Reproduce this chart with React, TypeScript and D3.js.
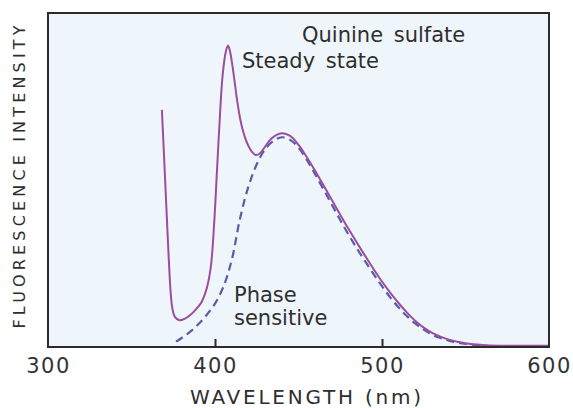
import React, { useEffect, useRef } from 'react';
import * as d3 from 'd3';

// Steady state emission (solid), wavelength nm / relative intensity
const steadyWl = [368.2, 369.5, 370.5, 371.5, 372.5, 373.5, 374.5, 376, 378.7, 382, 385, 389, 392, 395, 397.5, 399.5, 401, 402.6, 404.5, 406.5, 407.8, 409, 410.5, 412, 413.5, 415, 416.5, 418, 420, 422, 424.3, 427, 430, 434, 440, 445, 450, 455, 460, 465, 470, 475, 480, 485, 490, 495, 500, 505, 510, 515, 520, 525, 530, 535, 540, 545, 550, 560, 570, 585, 600];
const steadyVal = [0.71, 0.57, 0.46, 0.35, 0.245, 0.16, 0.115, 0.09, 0.08, 0.085, 0.095, 0.115, 0.135, 0.175, 0.24, 0.37, 0.51, 0.66, 0.81, 0.885, 0.903, 0.885, 0.84, 0.785, 0.73, 0.685, 0.652, 0.627, 0.602, 0.585, 0.575, 0.58, 0.6, 0.625, 0.64, 0.632, 0.605, 0.568, 0.527, 0.484, 0.44, 0.396, 0.353, 0.312, 0.272, 0.233, 0.196, 0.162, 0.131, 0.103, 0.078, 0.058, 0.042, 0.031, 0.022, 0.016, 0.011, 0.006, 0.004, 0.004, 0.004];

// Phase sensitive emission (dashed)
const phaseWl = [376.7, 380, 385, 390, 395, 400, 405, 410, 415, 420, 425, 430, 435, 440, 445, 450, 455, 460, 465, 470, 475, 480, 485, 490, 495, 500, 505, 510, 515, 520, 525, 530, 535, 540, 545, 550, 560, 570, 585];
const phaseVal = [0.016, 0.027, 0.045, 0.068, 0.096, 0.13, 0.18, 0.26, 0.385, 0.48, 0.547, 0.592, 0.617, 0.628, 0.62, 0.597, 0.56, 0.517, 0.472, 0.426, 0.38, 0.336, 0.295, 0.256, 0.218, 0.182, 0.148, 0.118, 0.092, 0.07, 0.052, 0.037, 0.027, 0.019, 0.013, 0.009, 0.004, 0.001, 0];

const xTicks = [300, 400, 500, 600];

export default function App() {
  const svgRef = useRef<SVGSVGElement>(null);

  useEffect(() => {
    if (!svgRef.current) return;
    const svg = d3.select(svgRef.current);
    svg.selectAll('*').remove();

    const left = 48, right = 549, top = 13, bottom = 347;
    const font = 'DejaVu Sans, sans-serif';

    const x = d3.scaleLinear().domain([300, 600]).range([left, right]);
    const y = d3.scaleLinear().domain([0, 1]).range([bottom, top]);

    // plot background
    svg.append('rect')
      .attr('x', left).attr('y', top)
      .attr('width', right - left).attr('height', bottom - top)
      .attr('fill', '#eef6fb');

    const line = d3.line<[number, number]>()
      .x(d => x(d[0]))
      .y(d => y(d[1]))
      .curve(d3.curveCatmullRom.alpha(0.5));

    const phase = phaseWl.map((w, i) => [w, phaseVal[i]] as [number, number]);
    const steady = steadyWl.map((w, i) => [w, steadyVal[i]] as [number, number]);

    svg.append('path')
      .datum(phase)
      .attr('d', line)
      .attr('fill', 'none')
      .attr('stroke', '#5b5aab')
      .attr('stroke-width', 2.2)
      .attr('stroke-dasharray', '8,5');

    svg.append('path')
      .datum(steady)
      .attr('d', line)
      .attr('fill', 'none')
      .attr('stroke', '#9b4d9e')
      .attr('stroke-width', 2);

    // frame
    svg.append('rect')
      .attr('x', left).attr('y', top)
      .attr('width', right - left).attr('height', bottom - top)
      .attr('fill', 'none')
      .attr('stroke', '#2b2b2b')
      .attr('stroke-width', 2);

    // bottom axis, ticks pointing inward
    const axis = svg.append('g')
      .attr('transform', `translate(0,${bottom})`)
      .call(d3.axisBottom(x).tickValues(xTicks).tickSize(-8).tickPadding(11).tickFormat(d3.format('d')));
    axis.select('.domain').remove();
    axis.selectAll('.tick line')
      .attr('stroke', '#2b2b2b')
      .attr('stroke-width', 2)
      .attr('opacity', (d: any) => (d === 300 || d === 600 ? 0 : 1));
    axis.selectAll('.tick text')
      .attr('font-family', font)
      .attr('font-size', 21)
      .attr('letter-spacing', 1.5)
      .attr('fill', '#333');

    const label = (txt: string, tx: number, ty: number, size: number) =>
      svg.append('text')
        .attr('x', tx).attr('y', ty)
        .attr('font-family', font)
        .attr('font-size', size)
        .attr('fill', '#2e2e2e')
        .attr('word-spacing', 4)
        .text(txt);

    label('Quinine sulfate', 302, 42, 21);
    label('Steady state', 242, 68, 21);
    label('Phase', 234, 302, 21);
    label('sensitive', 234, 325, 21);

    svg.append('text')
      .attr('x', 190).attr('y', 404)
      .attr('font-family', font)
      .attr('font-size', 20)
      .attr('fill', '#2e2e2e')
      .attr('textLength', 231)
      .attr('lengthAdjust', 'spacing')
      .text('WAVELENGTH (nm)');

    svg.append('text')
      .attr('transform', `translate(25,${177}) rotate(-90)`)
      .attr('text-anchor', 'middle')
      .attr('font-family', font)
      .attr('font-size', 16)
      .attr('fill', '#2e2e2e')
      .attr('textLength', 303)
      .attr('lengthAdjust', 'spacing')
      .text('FLUORESCENCE INTENSITY');
  }, []);

  return (
    <div style={{ position: 'absolute', left: 0, top: 0 }}>
      <svg ref={svgRef} width={573} height={408} style={{ display: 'block', background: '#fff' }} />
    </div>
  );
}
